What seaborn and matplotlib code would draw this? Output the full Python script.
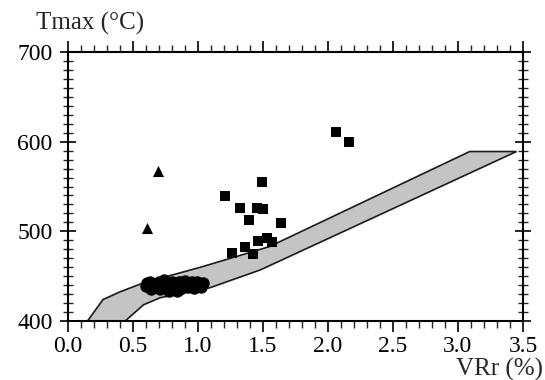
import numpy as np
import pandas as pd
import matplotlib
matplotlib.use("Agg")
import matplotlib.pyplot as plt
from matplotlib.ticker import MultipleLocator
import seaborn as sns

# Envelope (gray band) boundary
band_upper_vr = [0.15, 0.27, 0.40, 0.58, 1.02, 1.55, 3.09, 3.45]
band_upper_t = [400, 424, 432.5, 442.5, 460, 483, 589, 589]
band_lower_vr = [3.45, 1.48, 1.09, 0.71, 0.58, 0.44]
band_lower_t = [589, 457, 437, 426, 418, 400]

# Triangle samples
tri_vr = [0.69, 0.61]
tri_t = [567, 504]

# Square samples
sq_vr = [1.49, 1.21, 1.32, 1.45, 1.50, 1.39, 1.64, 1.26, 1.36, 1.42, 1.46, 1.53,
         1.57, 2.06, 2.16]
sq_t = [555, 539.5, 526, 526, 525, 513, 509.5, 476, 483, 475, 489, 492.5,
        488, 611, 600]

# Dense cluster of samples
blob_vr = [0.60, 0.61, 0.63, 0.64, 0.66, 0.68, 0.70, 0.71, 0.73, 0.74, 0.75, 0.77,
           0.78, 0.80, 0.80, 0.82, 0.84, 0.85, 0.86, 0.88, 0.88, 0.90, 0.92, 0.93,
           0.95, 0.96, 0.97, 0.99, 1.00, 1.01, 1.02, 1.04, 0.69, 0.76, 0.83, 0.91]
blob_t = [439, 442, 443, 436, 440, 441, 444, 436, 440, 446, 443, 438,
          434, 443, 439, 437, 433, 444, 436, 440, 444, 445, 438, 441,
          443, 440, 437, 444, 441, 440, 438, 442, 438, 441, 440, 441]

x_ticks = [0.0, 0.5, 1.0, 1.5, 2.0, 2.5, 3.0, 3.5]
y_ticks = [400, 500, 600, 700]

sns.set_theme(style="ticks")
plt.rcParams['font.family'] = ['Liberation Serif', 'DejaVu Serif']

fig = plt.figure(figsize=(5.45, 3.8), dpi=100)
ax = fig.add_axes([68/545, 1-321/380, (523-68)/545, (321-52)/380])

poly_x = band_upper_vr + band_lower_vr
poly_y = band_upper_t + band_lower_t
ax.fill(poly_x, poly_y, facecolor="#c4c4c4", edgecolor="#1a1a1a", linewidth=1.2, zorder=1)

df_blob = pd.DataFrame({"VR": blob_vr, "T": blob_t})
sns.scatterplot(data=df_blob, x="VR", y="T", marker="o", s=80, color="black",
                edgecolor="black", linewidth=0, ax=ax, zorder=3)
df_sq = pd.DataFrame({"VR": sq_vr, "T": sq_t})
sns.scatterplot(data=df_sq, x="VR", y="T", marker="s", s=44, color="black",
                edgecolor="black", linewidth=0, ax=ax, zorder=3)
df_tri = pd.DataFrame({"VR": tri_vr, "T": tri_t})
sns.scatterplot(data=df_tri, x="VR", y="T", marker="^", s=64, color="black",
                edgecolor="black", linewidth=0, ax=ax, zorder=3)

ax.set_xlim(0, 3.5)
ax.set_ylim(400, 700)
ax.set_xticks(x_ticks)
ax.set_xticklabels([f"{v:.1f}" for v in x_ticks])
ax.set_yticks(y_ticks)
ax.set_yticklabels([str(v) for v in y_ticks])
ax.xaxis.set_minor_locator(MultipleLocator(0.1))
ax.yaxis.set_minor_locator(MultipleLocator(10))
ax.set_xlabel("")
ax.set_ylabel("")

for s in ax.spines.values():
    s.set_visible(True)
    s.set_linewidth(1.5)
    s.set_color("black")

ax.tick_params(axis='x', which='major', direction='out', length=8, width=1.2,
               top=True, bottom=True, labelsize=17, pad=3, colors='black')
ax.tick_params(axis='x', which='minor', direction='out', length=5, width=1.0,
               top=True, bottom=True)
ax.tick_params(axis='y', which='major', direction='inout', length=12, width=1.2,
               left=True, right=True, labelsize=17, pad=5, colors='black')
ax.tick_params(axis='y', which='minor', direction='inout', length=7, width=1.0,
               left=True, right=True)

fig.text(90/545, 1-23/380, "Tmax (°C)", ha="center", va="center", fontsize=18)
fig.text(543/545, 1-369/380, "VRr (%)", ha="right", va="center", fontsize=18)

fig.savefig("out.png", dpi=100)
